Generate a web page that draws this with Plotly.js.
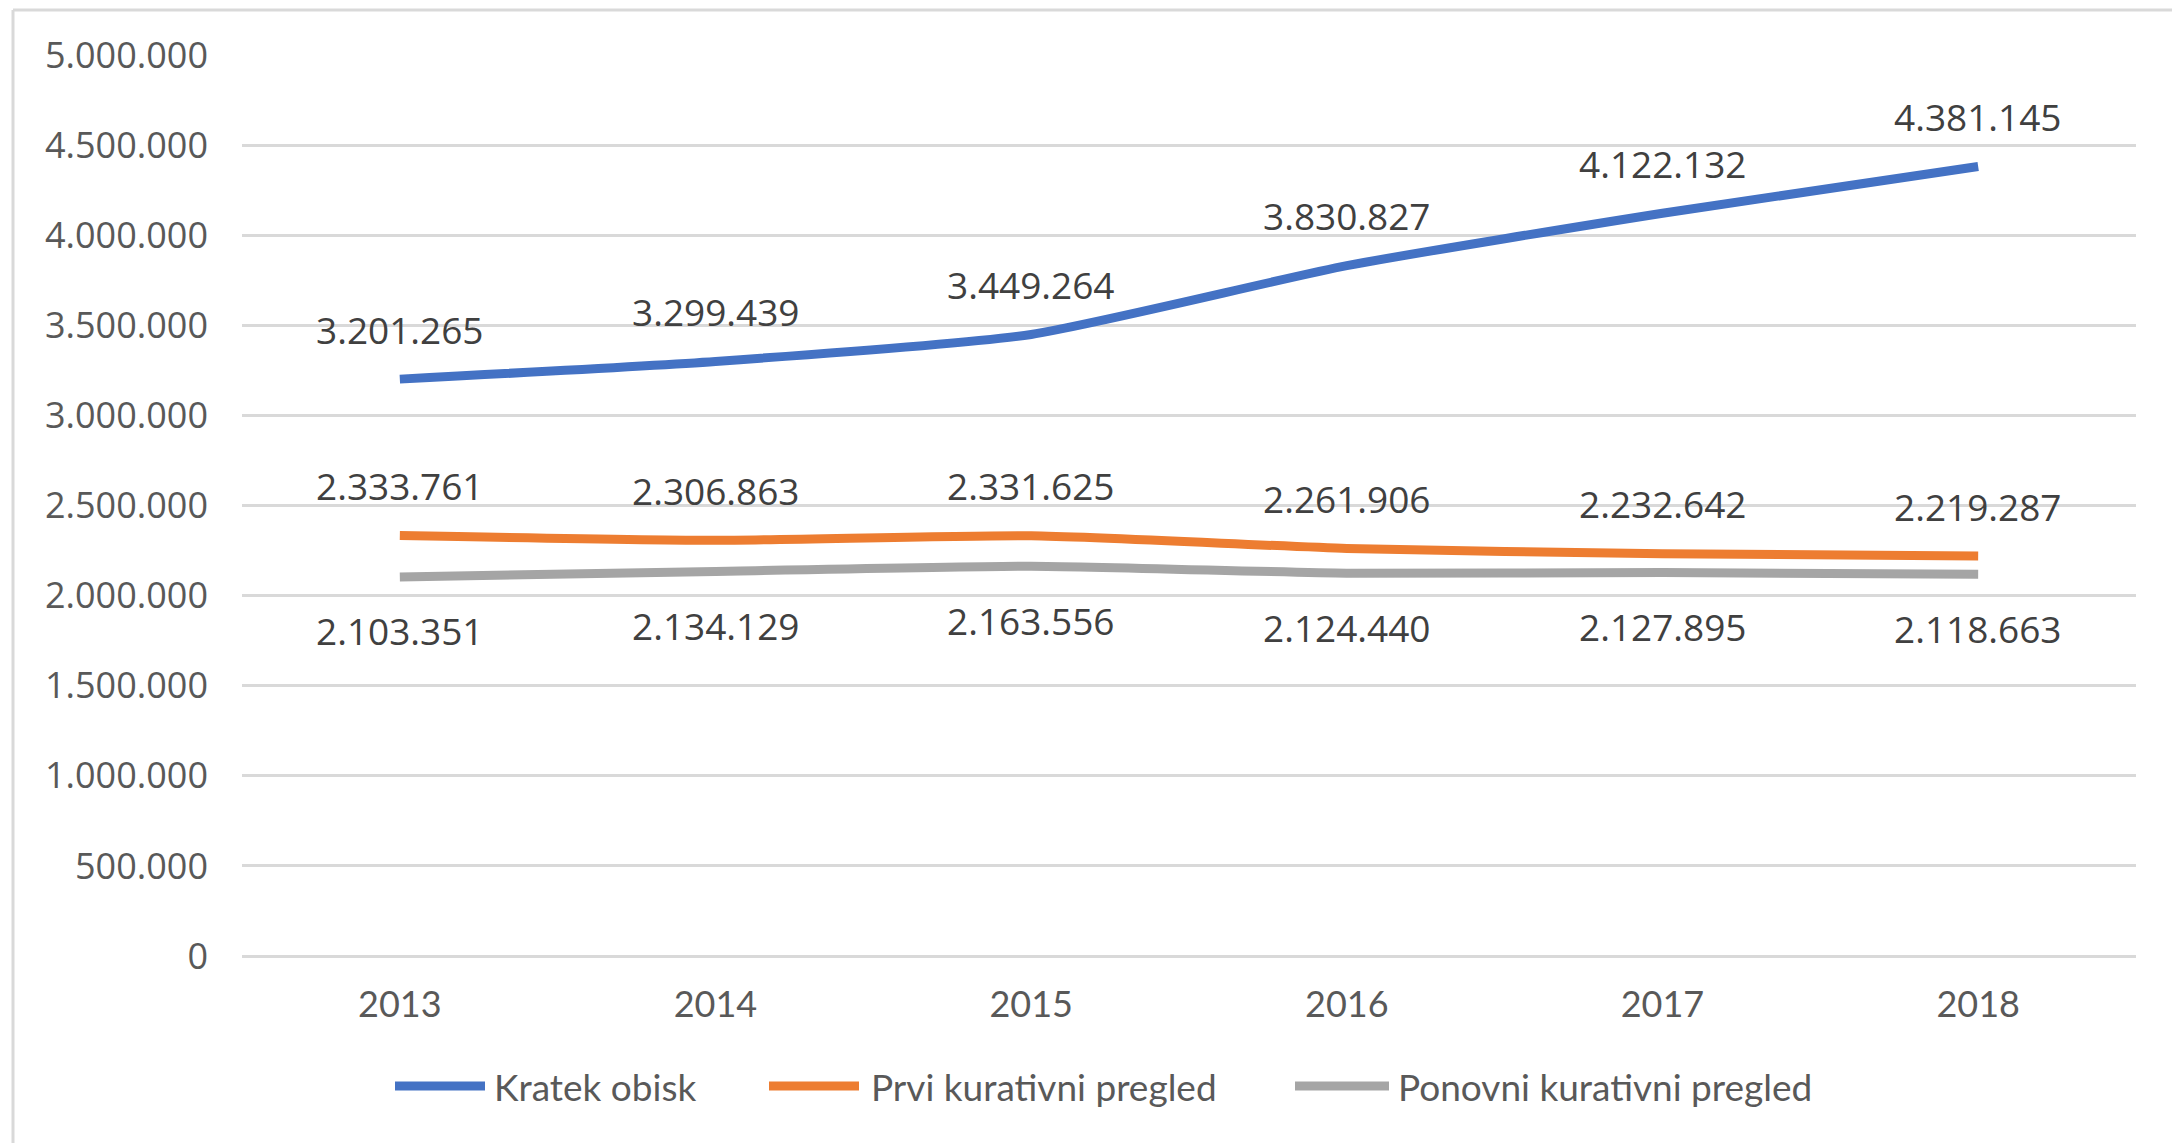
<!DOCTYPE html>
<html>
<head>
<meta charset="utf-8">
<script src="https://cdn.plot.ly/plotly-3.0.1.min.js"></script>
<style>
  html, body { margin: 0; padding: 0; background: #ffffff; }
  #chart { width: 2172px; height: 1143px; }
</style>
</head>
<body>
<div id="chart"></div>
<script>
// ---- data ----
const years = ['2013', '2014', '2015', '2016', '2017', '2018'];
const kratekObisk = [3201265, 3299439, 3449264, 3830827, 4122132, 4381145];
const prviPregled = [2333761, 2306863, 2331625, 2261906, 2232642, 2219287];
const ponovniPregled = [2103351, 2134129, 2163556, 2124440, 2127895, 2118663];
const seriesNames = ['Kratek obisk', 'Prvi kurativni pregled', 'Ponovni kurativni pregled'];
const seriesColors = ['#4472C4', '#ED7D31', '#A5A5A5'];

// ---- helpers ----
function fmt(v) {
  return String(v).replace(/\B(?=(\d{3})+(?!\d))/g, '.');
}

const allSeries = [kratekObisk, prviPregled, ponovniPregled];
const traces = allSeries.map((vals, i) => ({
  type: 'scatter',
  mode: 'lines',
  x: years,
  y: vals,
  name: seriesNames[i],
  line: { color: seriesColors[i], width: 9, shape: 'spline', smoothing: 0.55 },
  hoverinfo: 'skip',
  showlegend: false
}));

const labelFont = { family: 'Open Sans, sans-serif', size: 37, color: '#404040' };
const annotations = [];
const shifts = [50, 50, -54];
allSeries.forEach((vals, i) => {
  vals.forEach((v, j) => {
    annotations.push({
      x: j, y: v, xref: 'x', yref: 'y',
      text: fmt(v), showarrow: false,
      yshift: shifts[i], font: labelFont,
      xanchor: 'center', yanchor: 'middle'
    });
  });
});

// custom legend (paper coordinates)
const plotL = 242, plotW = 1894, plotB = 956, plotH = 901;
const px = X => (X - plotL) / plotW;
const py = Y => (plotB - Y) / plotH;
const legLineStart = [395, 769, 1295];
const legLineEnd = [485, 859, 1389];
const legTextStart = [492, 869, 1396];
const legY = 1086;
const shapes = [
  { type: 'line', xref: 'paper', yref: 'paper', x0: px(13), x1: px(13), y0: py(10), y1: py(1150),
    line: { color: '#D9D9D9', width: 3 } },
  { type: 'line', xref: 'paper', yref: 'paper', x0: px(13), x1: px(2180), y0: py(10), y1: py(10),
    line: { color: '#D9D9D9', width: 3 } }
];
seriesNames.forEach((n, i) => {
  shapes.push({ type: 'line', xref: 'paper', yref: 'paper',
    x0: px(legLineStart[i]), x1: px(legLineEnd[i]), y0: py(legY), y1: py(legY),
    line: { color: seriesColors[i], width: 9 } });
  annotations.push({ xref: 'paper', yref: 'paper', x: px(legTextStart[i]), y: py(legY),
    text: n, showarrow: false, xanchor: 'left', yanchor: 'middle',
    font: { family: 'Lato, sans-serif', size: 37, color: '#595959' } });
});

const layout = {
  width: 2172,
  height: 1143,
  margin: { l: 242, r: 36, t: 55, b: 187 },
  paper_bgcolor: '#ffffff',
  plot_bgcolor: '#ffffff',
  separators: ',.',
  showlegend: false,
  xaxis: {
    type: 'category',
    categoryorder: 'array',
    categoryarray: years,
    range: [-0.5, 5.5],
    showgrid: false,
    zeroline: false,
    showline: false,
    ticks: '',
    ticklabelstandoff: 24,
    tickfont: { family: 'Lato, sans-serif', size: 36, color: '#595959' },
    fixedrange: true
  },
  yaxis: {
    range: [0, 5000000],
    dtick: 500000,
    tick0: 0,
    tickformat: ',d',
    showgrid: true,
    gridcolor: '#D9D9D9',
    gridwidth: 3,
    zeroline: true,
    zerolinecolor: '#D9D9D9',
    zerolinewidth: 3,
    showline: false,
    ticks: '',
    ticklabelstandoff: 33,
    tickfont: { family: 'Open Sans, sans-serif', size: 36, color: '#595959' },
    fixedrange: true
  },
  annotations: annotations,
  shapes: shapes
};

Plotly.newPlot('chart', traces, layout, { staticPlot: true, displayModeBar: false });
</script>
</body>
</html>
